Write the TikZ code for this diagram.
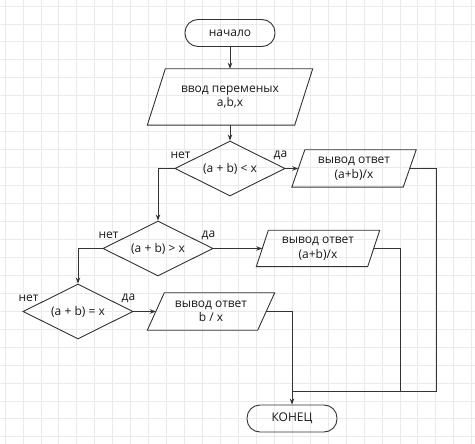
\documentclass[tikz,border=0pt]{standalone}
\usepackage{fontspec}
\setmainfont{Open Sans}
\usetikzlibrary{shapes.geometric,arrows.meta}
\definecolor{gridc}{RGB}{234,234,234}
\definecolor{linec}{RGB}{51,51,51}
\definecolor{textc}{RGB}{25,25,25}
\newcommand\drawpara[2]{\draw[flow] ([xshift=-#2]#1.south west) -- ([xshift=#2]#1.north west) -- ([xshift=#2]#1.north east) -- ([xshift=-#2]#1.south east) -- cycle;}
\begin{document}
\begin{tikzpicture}[x=1pt,y=-1pt,
 every node/.style={font=\fontsize{12}{14.5}\selectfont, text=textc},
 flow/.style={draw=linec, line width=0.9pt},
 arr/.style={flow, -{Stealth[length=6pt,width=4.5pt]}},
 term/.style={draw=linec, line width=0.9pt, rectangle, rounded corners=13pt, minimum width=90pt, minimum height=27pt, inner sep=0pt},
 dec/.style={draw=linec, line width=0.9pt, diamond, aspect=2, minimum width=110pt, minimum height=55pt, inner sep=0pt},
 iobox/.style={rectangle, inner sep=0pt, align=center},
 lbl/.style={inner sep=0pt}]
\useasboundingbox (0,0) rectangle (475,444);
\fill[white] (0,0) rectangle (475,444);
\foreach \i in {0,...,26} {\draw[gridc, line width=0.8pt] ({5+17.95*\i},0) -- ({5+17.95*\i},444);}
\foreach \j in {0,...,24} {\draw[gridc, line width=0.8pt] (0,{6+17.95*\j}) -- (475,{6+17.95*\j});}

\node[term] (start) at (230,33) {начало};
\node[iobox, minimum width=147pt, minimum height=56pt] (p1) at (230,97) {ввод переменых\\a,b,x};
\node[dec] (d1) at (230,168.5) {(a + b) < x};
\node[iobox, minimum width=111pt, minimum height=37pt] (p2) at (354,168.5) {вывод ответ\\(a+b)/x};
\node[dec] (d2) at (158,248.5) {(a + b) > x};
\node[iobox, minimum width=111pt, minimum height=36pt] (p3) at (318,248.5) {вывод ответ\\(a+b)/x};
\node[dec] (d3) at (78,311.5) {(a + b) = x};
\node[iobox, minimum width=110pt, minimum height=37pt] (p4) at (211,311.5) {вывод ответ\\b / x};
\node[term] (end) at (292,418.5) {КОНЕЦ};

\drawpara{p1}{9pt}
\drawpara{p2}{6.5pt}
\drawpara{p3}{6pt}
\drawpara{p4}{8.5pt}

\node[lbl] (d1no) at ([shift={(6,-13)}]d1.west) {нет};
\node[lbl] (d1yes) at ([shift={(-5,-13)}]d1.east) {да};
\node[lbl] (d2no) at ([shift={(6,-13)}]d2.west) {нет};
\node[lbl] (d2yes) at ([shift={(-5,-13)}]d2.east) {да};
\node[lbl] (d3no) at ([shift={(6,-13)}]d3.west) {нет};
\node[lbl] (d3yes) at ([shift={(-5,-13)}]d3.east) {да};

\coordinate (j) at (292,391.5);
\coordinate (r2) at (436,168.5);
\coordinate (r3) at (400,391.5);

\draw[arr] (start.south) -- (p1.north);
\draw[arr] (p1.south) -- (d1.north);
\draw[arr] (d1.east) -- (p2.west);
\draw[arr] (d1.west) -| (d2.north);
\draw[arr] (d2.east) -- (p3.west);
\draw[arr] (d2.west) -| (d3.north);
\draw[arr] (d3.east) -- (p4.west);
\draw[arr] (p4.east) -| (end.north);
\draw[flow] (p2.east) -- (r2) |- (j);
\draw[flow] (p3.east) -| (r3);
\end{tikzpicture}
\end{document}
